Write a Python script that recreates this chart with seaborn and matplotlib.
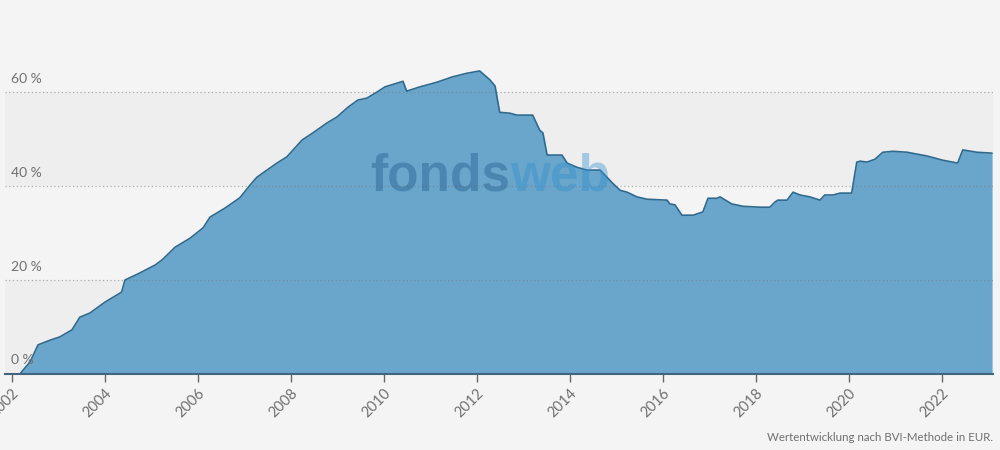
import numpy as np
import pandas as pd
import matplotlib
matplotlib.use("Agg")
import matplotlib.pyplot as plt
import matplotlib.transforms as mtransforms
import seaborn as sns

# Wertentwicklung (BVI) in %
years = [2002.17, 2002.39, 2002.56, 2002.82, 2003.03, 2003.29, 2003.46, 2003.68, 2004.00,
         2004.32, 2004.36, 2004.43, 2004.75, 2005.08, 2005.23, 2005.51, 2005.83, 2006.11,
         2006.26, 2006.58, 2006.90, 2007.12, 2007.27, 2007.70, 2007.91, 2008.24, 2008.47,
         2008.77, 2008.99, 2009.23, 2009.44, 2009.63, 2009.85, 2010.02, 2010.28, 2010.41,
         2010.49, 2010.77, 2011.14, 2011.46, 2011.78, 2012.06, 2012.28, 2012.39, 2012.49,
         2012.71, 2012.86, 2013.20, 2013.35, 2013.42, 2013.51, 2013.83, 2013.94, 2014.15,
         2014.37, 2014.65, 2014.92, 2015.08, 2015.23, 2015.44, 2015.66, 2016.09, 2016.15,
         2016.26, 2016.41, 2016.65, 2016.80, 2016.86, 2016.97, 2017.16, 2017.23, 2017.48,
         2017.72, 2018.09, 2018.30, 2018.41, 2018.47, 2018.67, 2018.80, 2018.95, 2019.16,
         2019.38, 2019.48, 2019.66, 2019.81, 2019.91, 2020.06, 2020.17, 2020.24, 2020.39,
         2020.56, 2020.73, 2020.95, 2021.25, 2021.68, 2022.02, 2022.34, 2022.45, 2022.75,
         2023.08]
perf = [0.0, 2.6, 6.2, 7.2, 7.9, 9.4, 12.1, 13.0, 15.3,
        17.2, 17.5, 20.0, 21.5, 23.2, 24.3, 27.0, 28.9, 31.1,
        33.4, 35.3, 37.5, 40.2, 41.9, 44.9, 46.2, 49.8, 51.3,
        53.4, 54.7, 56.8, 58.3, 58.7, 60.0, 61.1, 61.9, 62.3,
        60.2, 61.1, 62.1, 63.2, 64.0, 64.5, 62.6, 61.3, 55.7,
        55.5, 55.1, 55.1, 51.9, 51.3, 46.6, 46.6, 44.9, 44.0,
        43.4, 43.4, 40.6, 39.1, 38.7, 37.7, 37.2, 37.0, 36.2,
        36.0, 33.8, 33.8, 34.3, 34.5, 37.4, 37.4, 37.7, 36.2,
        35.7, 35.5, 35.5, 36.6, 37.0, 37.0, 38.7, 38.1, 37.7,
        37.0, 38.1, 38.1, 38.5, 38.5, 38.5, 45.1, 45.3, 45.1,
        45.7, 47.2, 47.4, 47.2, 46.4, 45.5, 44.9, 47.7, 47.2,
        47.0]
x_ticks = list(range(2002, 2023, 2))
y_ticks = [0, 20, 40, 60]

df = pd.DataFrame({"jahr": years, "wert": perf})

sns.set_theme(style="white")
plt.rcParams["font.family"] = ["Lato", "DejaVu Sans"]

bg = "#f5f4f4"
fill_col = "#6aa6cb"
line_col = "#2f6a8e"
txt_col = "#707070"

fig = plt.figure(figsize=(10, 4.5), dpi=100, facecolor=bg)
ax = fig.add_axes([0.005, 1 - 374 / 450, 0.988, 374 / 450])
ax.set_facecolor(bg)

# Baender
ax.axhspan(0, 20, color="#efeeee", zorder=0, lw=0)
ax.axhspan(40, 60, color="#efeeee", zorder=0, lw=0)

ax.fill_between(df["jahr"], 0, df["wert"], color=fill_col, lw=0, zorder=2)
sns.lineplot(data=df, x="jahr", y="wert", ax=ax, color=line_col, lw=1.2, zorder=3)

for v in y_ticks[1:]:
    ax.axhline(v, color="#777777", lw=0.9, ls=(0, (1, 2)), alpha=0.55, zorder=2.5)

ax.set_xlim(2001.85, 2023.1)
ax.set_ylim(0, 79.6)

trans = mtransforms.blended_transform_factory(ax.transAxes, ax.transData)
for v in y_ticks:
    ax.text(0.006, v + 1.6, f"{v} %", transform=trans, ha="left", va="bottom",
            fontsize=10, color=txt_col, zorder=4)
ax.set_yticks([])

ax.set_xticks(x_ticks)
ax.set_xticklabels([str(t) for t in x_ticks], rotation=45, ha="right",
                   rotation_mode="anchor", fontsize=10.5, color=txt_col)
ax.tick_params(axis="x", direction="out", length=6, width=1, color="#666666", pad=3,
               bottom=True)
ax.set_xlabel("")
ax.set_ylabel("")

for s in ["top", "left", "right"]:
    ax.spines[s].set_visible(False)
ax.spines["bottom"].set_color("#3f6580")
ax.spines["bottom"].set_linewidth(1.5)
ax.spines["bottom"].set_zorder(5)

# Wasserzeichen
wm_font = ["Liberation Sans", "DejaVu Sans"]
ax.text(0.511, 0.528, "fonds", transform=ax.transAxes, ha="right", va="center",
        fontsize=37, fontweight="bold", color="#1a5687", alpha=0.4,
        family=wm_font, zorder=4)
ax.text(0.511, 0.528, "web", transform=ax.transAxes, ha="left", va="center",
        fontsize=37, fontweight="bold", color="#2f8fd0", alpha=0.4,
        family=wm_font, zorder=4)

fig.text(0.993, 0.027, "Wertentwicklung nach BVI-Methode in EUR.", ha="right",
         va="center", fontsize=8.3, color=txt_col)

fig.savefig("out.png", dpi=100, facecolor=bg)
